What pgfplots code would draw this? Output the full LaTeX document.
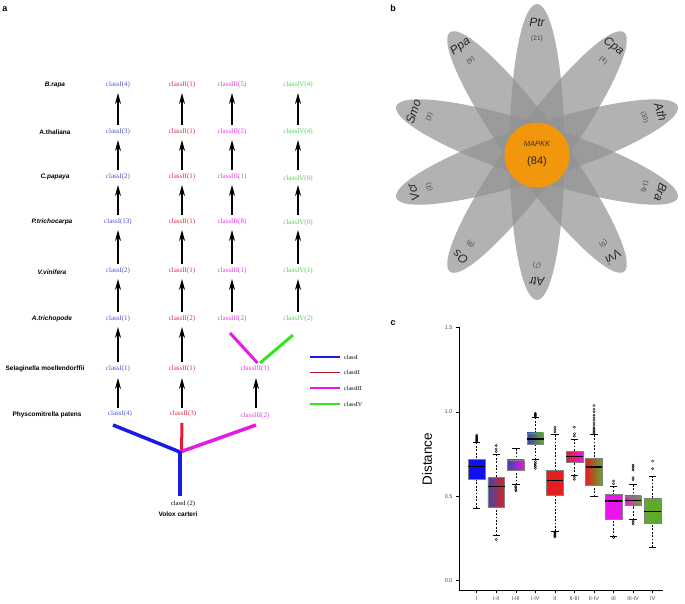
\documentclass[border=0pt]{standalone}
\usepackage{pgfplots}
\pgfplotsset{compat=1.18}
\usepgfplotslibrary{statistics}
\usetikzlibrary{arrows.meta}
\usepackage{fontspec}
\setmainfont{Liberation Sans}
\newfontfamily\serifcls{Liberation Serif}
\definecolor{cI}{RGB}{80,80,210}
\definecolor{cII}{RGB}{210,50,70}
\definecolor{cIII}{RGB}{225,60,225}
\definecolor{cIV}{RGB}{70,210,70}
\definecolor{tI}{RGB}{26,26,230}
\definecolor{tII}{RGB}{230,26,60}
\definecolor{tIII}{RGB}{230,26,230}
\definecolor{tIV}{RGB}{50,230,30}
\definecolor{lII}{RGB}{180,20,40}
\definecolor{petal}{RGB}{145,145,145}
\definecolor{orng}{RGB}{242,150,12}
\definecolor{bI}{RGB}{16,16,240}
\definecolor{bIg}{RGB}{60,70,170}
\definecolor{bII}{RGB}{226,32,32}
\definecolor{bIII}{RGB}{236,20,236}
\definecolor{bIV}{RGB}{95,170,45}
\newcommand\spf{\fontsize{6.5}{7}\selectfont\bfseries}
\newcommand\clf{\serifcls\fontsize{7}{8}\selectfont}
\begin{document}
\begin{tikzpicture}
\begin{scope}[x=1pt,y=-1pt]
\useasboundingbox (0,0) rectangle (685,603);
% ---------------- panel a ----------------
\node[font=\bfseries\fontsize{9}{10}\selectfont] at (5,9) {a};
\node[font=\spf\itshape] at (55,85) {B.rapa};
\node[font=\spf] at (55,132) {A.thaliana};
\node[font=\spf\itshape] at (55,177) {C.papaya};
\node[font=\spf\itshape] at (52,222) {P.trichocarpa};
\node[font=\spf\itshape] at (52,272) {V.vinifera};
\node[font=\spf\itshape] at (52,319) {A.trichopode};
\node[font=\spf] at (45,369) {Selaginella moellendorffii};
\node[font=\spf] at (47,415) {Physcomitrella patens};
% class labels rows 1-6
\foreach \y/\a/\b/\c/\d/\dy in {85/4/1/5/4/0,132/3/1/2/4/0,177/2/1/1/0/2,222/13/1/8/0/1,271/2/1/1/1/0,319/1/2/2/2/0}{
  \node[font=\clf,text=cI] at (118,\y) {classI(\a)};
  \node[font=\clf,text=cII] at (182,\y) {classII(\b)};
  \node[font=\clf,text=cIII] at (232,\y) {classIII(\c)};
  \node[font=\clf,text=cIV] at (298,\y+\dy) {classIV(\d)};
}
\node[font=\clf,text=cI] at (118,369) {classI(1)};
\node[font=\clf,text=cII] at (182,369) {classII(1)};
\node[font=\clf,text=cIII] at (255,369) {classIII(1)};
\node[font=\clf,text=cI] at (120,414) {classI(4)};
\node[font=\clf,text=cII] at (183,414) {classII(3)};
\node[font=\clf,text=cIII] at (255,416) {classIII(2)};
% arrows
\foreach \x in {118,182,232,298}{
  \foreach \ya/\yb in {85/132,132/177,177/222,222/271,271/319}{
    \draw[line width=1.4pt,-{Stealth[length=11pt,width=6pt]}] (\x,\yb-7) -- (\x,\ya+8);
  }
}
\foreach \x in {118,182}{
  \draw[line width=1.4pt,-{Stealth[length=11pt,width=6pt]}] (\x,362) -- (\x,327);
  \draw[line width=1.4pt,-{Stealth[length=11pt,width=6pt]}] (\x,408) -- (\x,378);
}
\draw[line width=1.4pt,-{Stealth[length=11pt,width=6pt]}] (256,408) -- (256,378);
% V lines
\draw[tIII,line width=3pt] (230,333) -- (257.5,363);
\draw[tIV,line width=3pt] (260,363) -- (293,335);
% bottom tree
\draw[tI,line width=3.5pt] (113,425) -- (180,452);
\draw[tII,line width=3pt] (182,423) -- (181.5,452);
\draw[tIII,line width=3.5pt] (180,452) -- (256,425);
\draw[tI,line width=3.5pt] (180,451) -- (180,496);
\node[font=\serifcls\fontsize{6.5}{7}\selectfont] at (183,504) {classI (2)};
\node[font=\spf] at (178,514) {Volox carteri};
% legend
\foreach \y/\c/\t in {357/tI/classI,372.5/lII/classII,388/tIII/classIII,404/tIV/classIV}{
  \draw[\c,line width=1.2pt] (310,\y) -- (340,\y);
  \node[anchor=west,font=\serifcls\fontsize{6}{7}\selectfont,inner sep=0pt] at (344,\y) {\t};
}
% ---------------- panel b ----------------
\node[font=\bfseries\fontsize{9}{10}\selectfont] at (393,8) {b};
\foreach \a in {0,36,72,108,144}{
  \fill[petal,fill opacity=0.7,rotate around={\a:(537,152)}] (537,152) ellipse (27.5 and 148);
}
\fill[orng] (537,155) circle (32.5);
\node[font=\itshape\fontsize{7.5}{8}\selectfont,text=black!80] at (537,144) {MAPKK};
\node[font=\fontsize{11}{12}\selectfont,text=black!85] at (537,162) {(84)};
\foreach \n/\v/\a in {Ptr/21/0,Cpa/4/36,Ath/10/72,Bra/14/108,Vvi/5/144,Atr/7/180,Os/9/216,Vcr/2/252,Smo/3/288,Ppa/9/324}{
  \node[rotate=-\a,font=\itshape\fontsize{12}{13}\selectfont,text=black!85,inner sep=0pt] at ({537+130*sin(\a)},{152-130*cos(\a)}) {\n};
  \node[rotate=-\a,font=\fontsize{6.5}{7}\selectfont,text=black!75,inner sep=0pt] at ({537+113*sin(\a)},{152-113*cos(\a)}) {(\v)};
}
% ---------------- panel c ----------------
\node[font=\bfseries\fontsize{9}{10}\selectfont] at (393,323) {c};
\node[rotate=90,font=\fontsize{13.4}{14}\selectfont] at (427,459) {Distance};
\end{scope}
\begin{axis}[
  at={(459pt,-590pt)}, anchor=south west,
  width=204pt, height=262.7pt, scale only axis,
  xmin=-0.905, xmax=9.53, ymin=-0.055, ymax=1.5,
  axis lines=left, axis line style={-, line width=0.6pt},
  xtick={0,...,9},
  xticklabels={I,I-II,I-III,I-IV,II,II-III,II-IV,III,III-IV,IV},
  ytick={0,0.5,1,1.5}, yticklabels={0.0,0.5,1.0,1.5},
  tick align=outside, major tick length=3pt,
  tick style={black, line width=0.5pt},
  ticklabel style={font=\fontsize{5.5}{6}\selectfont, text=black!70},
  boxplot/draw direction=y,
  boxplot/box extend=0.85, boxplot/whisker extend=0.38,
  boxplot/every median/.style={line width=1.4pt, black},
  boxplot/draw/lower whisker/.code={%
    \draw[black,dash pattern=on 1.8pt off 1.6pt,line width=0.5pt] (boxplot cs:\pgfplotsboxplotvalue{lower whisker}) -- (boxplot cs:\pgfplotsboxplotvalue{lower quartile});
    \draw[black,solid,line width=0.6pt] (boxplot whisker cs:\pgfplotsboxplotvalue{lower whisker},0) -- (boxplot whisker cs:\pgfplotsboxplotvalue{lower whisker},1);
  },
  boxplot/draw/upper whisker/.code={%
    \draw[black,dash pattern=on 1.8pt off 1.6pt,line width=0.5pt] (boxplot cs:\pgfplotsboxplotvalue{upper whisker}) -- (boxplot cs:\pgfplotsboxplotvalue{upper quartile});
    \draw[black,solid,line width=0.6pt] (boxplot whisker cs:\pgfplotsboxplotvalue{upper whisker},0) -- (boxplot whisker cs:\pgfplotsboxplotvalue{upper whisker},1);
  },
  clip=false,
  every axis plot/.append style={mark=o, mark size=1.1pt, mark options={solid,draw=black,fill=none,line width=0.4pt}},
]
% I
\addplot[boxplot prepared={draw position=0, median=0.676, upper quartile=0.722, lower quartile=0.599, upper whisker=0.817, lower whisker=0.43},
  boxplot/every box/.style={fill=bI, draw=black!50}]
  table[row sep=\\,y index=0]{data\\0.825\\0.83\\0.835\\0.84\\0.845\\0.85\\0.855\\0.862\\};
% I-II
\addplot[boxplot prepared={draw position=1, median=0.558, upper quartile=0.613, lower quartile=0.435, upper whisker=0.746, lower whisker=0.268},
  boxplot/every box/.style={left color=bIg, right color=bII, draw=black!50}]
  table[row sep=\\,y index=0]{data\\0.765\\0.78\\0.80\\0.244\\};
% I-III
\addplot[boxplot prepared={draw position=2, median=0.716, upper quartile=0.716, lower quartile=0.653, upper whisker=0.781, lower whisker=0.568},
  boxplot/every box/.style={left color=bIg, right color=bIII, draw=black!50},
  boxplot/every median/.style={line width=0pt, draw=none}]
  table[row sep=\\,y index=0]{data\\0.558\\0.55\\0.54\\0.532\\};
% I-IV
\addplot[boxplot prepared={draw position=3, median=0.838, upper quartile=0.876, lower quartile=0.811, upper whisker=0.965, lower whisker=0.716},
  boxplot/every box/.style={left color=bIg, right color=bIV, draw=black!50}]
  table[row sep=\\,y index=0]{data\\0.97\\0.975\\0.98\\0.985\\0.99\\0.705\\0.695\\0.685\\0.675\\0.665\\};
% II
\addplot[boxplot prepared={draw position=4, median=0.593, upper quartile=0.657, lower quartile=0.509, upper whisker=0.864, lower whisker=0.293},
  boxplot/every box/.style={fill=bII, draw=black!50}]
  table[row sep=\\,y index=0]{data\\0.88\\0.895\\0.909\\0.288\\0.283\\0.278\\0.273\\0.268\\0.263\\0.258\\};
% II-III
\addplot[boxplot prepared={draw position=5, median=0.737, upper quartile=0.767, lower quartile=0.704, upper whisker=0.840, lower whisker=0.623},
  boxplot/every box/.style={left color=bII, right color=bIII, draw=black!50}]
  table[row sep=\\,y index=0]{data\\0.909\\0.87\\0.856\\0.613\\0.600\\};
% II-IV
\addplot[boxplot prepared={draw position=6, median=0.672, upper quartile=0.724, lower quartile=0.568, upper whisker=0.864, lower whisker=0.499},
  boxplot/every box/.style={left color=bII, right color=bIV, draw=black!50}]
  table[row sep=\\,y index=0]{data\\0.872\\0.88\\0.888\\0.896\\0.905\\0.92\\0.935\\0.95\\0.965\\0.98\\1.0\\1.015\\1.037\\};
% III
\addplot[boxplot prepared={draw position=7, median=0.471, upper quartile=0.515, lower quartile=0.367, upper whisker=0.558, lower whisker=0.262},
  boxplot/every box/.style={fill=bIII, draw=black!50}]
  table[row sep=\\,y index=0]{data\\0.574\\0.59\\0.255\\};
% III-IV
\addplot[boxplot prepared={draw position=8, median=0.475, upper quartile=0.503, lower quartile=0.445, upper whisker=0.568, lower whisker=0.363},
  boxplot/every box/.style={left color=bIII, right color=bIV, draw=black!50}]
  table[row sep=\\,y index=0]{data\\0.684\\0.675\\0.665\\0.655\\0.61\\0.598\\0.356\\0.345\\0.335\\};
% IV
\addplot[boxplot prepared={draw position=9, median=0.41, upper quartile=0.487, lower quartile=0.339, upper whisker=0.621, lower whisker=0.199},
  boxplot/every box/.style={fill=bIV, draw=black!50}]
  table[row sep=\\,y index=0]{data\\0.708\\0.664\\};
\end{axis}
\end{tikzpicture}
\end{document}
